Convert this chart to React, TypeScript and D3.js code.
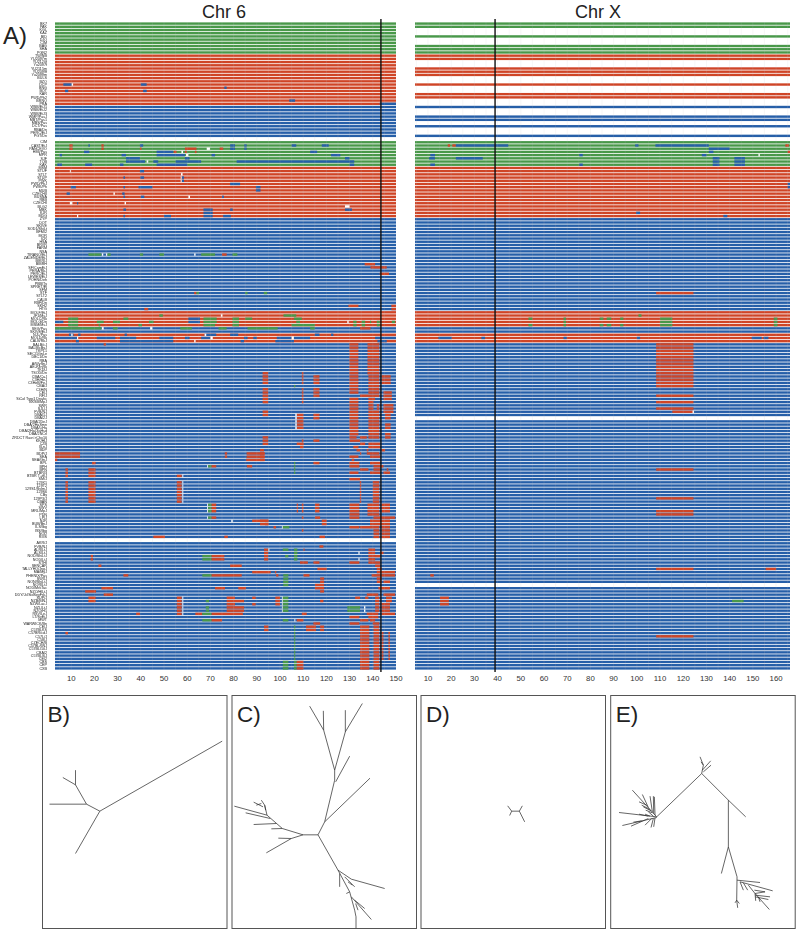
import * as d3 from "d3"

type Allele = "g" | "r" | "b" | "w"
// [first row, last row, first SNP, last SNP, allele]
type Patch = [number, number, number, number, Allele]
// [x1, y1, x2, y2] in tree units
type Branch = [number, number, number, number]

const rowCount = 202

const labelsTopGreen = "BK7,PAK,KGL,KAZ,BID,DJO,CIM,BAG,SHA,PGN2".split(",")
const labelsTopRed = "TW/NB,YU2097m,YU2120f,Yu2097f,YU2115m,YU2099f,Yu2099m,BULS,BZO,DCP,BNG,BOT,KAR,PWD/Ph2,BRNO,PRA".split(",")
const labelsTopBlue = "WSB/EiJ1,WSB/EiJ2,WSB/EiJ3,WMP/PasJ,MBT/Pas1,MBS/Pas,DCT/Pas,RBA/Dn,PERC/EiJ,PGT/Dn".split(",")
const labelsWildGreen = "CIM,CAST/EiJ,PANCEVO,HMI/Pas,MPR,SJF,TOB,KAK".split(",")
const labelsWildRed = "MSM,STUF,STLT,STUP,PWK,PWD/PhJ,PWK/Ph,MUB,CZECHII,BUSNA,RBB,CZECHI,BLG2,MBK,KJR,MDG".split(",")
const labelsClassicA = "ZYP,DOT,SKIVE,SOD1/ShiLt,BFM/2,MOR,ICR,HSA,BRVR,FARM,NSA,TIRANO/EiJ,ZALENDE/EiJ,BIKR/J,BIBRH,SF/CamEiJ,PERA/RkJ,PERC/EiJ,LEWES/EiJ,POHN/Deh,PBB/Ty,SPRET/Ei,SFM,STF,STLT2,CALB,RBF/Dn,SKH2,HTG".split(",")
const labelsClassicB = "MOLF/EiJ,JF1/MsJ,MOLC/Rk,MOLG/Dn,MSM/MsJ,SEG/Pas,SKIVE/EiJ,NJL/Pas,MOLD/Rk,CALB/RkJ,BALB/cJ,BALB/cByJ,TKPL1,SEC/1GnLe,DBC1/Dn,RBA".split(",")
const labelsClassicC = "A/WySnJ,AEJ/GnRk,TKDU,TSOD/Dn,CBA/CaJ,C3H/HeJ,C3HeB/FeJ,CBA/J,C3H/N,CE/J,RF/J,SiCol Tyrp1 Dnahc,BXSB/MpJ,SWR,SJL/J,FVB/NJ,DBA/1J,DBA/2J,DBA/2DeJ,DBA/2HaSmn,DBA/LiHa,DBA/2HaOlaHsd,DBA/2NCrl,ZRDCT Rax<>Chx10,KK/HlJ,CZB,I/LnJ".split(",")
const labelsClassicD = "BDP,BDP/J,SEA,SEA/GnJ,BPL,BPH,BPN,BTBR/3,BTBR T+tf/J,SM/J,129X1,129T2,129S1/SvImJ,129S6,CBy,129P3/J,CBAN,SPS,SWV,MRL/MpJ,PDN,LP/J,NJR,BUB/BnJ,ILS/Ibg,ISS/Ibg,NOD,RIIIS".split(",")
const labelsSecond = "AKR/J,FVB/NJ,ALR/LtJ,ALS/LtJ,NOD/ShiLtJ,NOD/LtJ,STHI,SENCAR,TALLYHO/JngJ,MA/MyJ,PHENIX/Pas,SWXJ,NON/ShiLtJ,NOR/LtJ,NOD/MrkTac,NZO/HlLtJ,DDY/JclSidSeyFrkJ,SUP/J,NZB/BlNJ,NZW/LacJ,NZL/LtJ,NZO/H1,RSV/LeJ,LT/SvEiJ,MWT,WARWICK/Bn,CE/J,C57BLKS,C57BR/cdJ,C57L/J,C58/J,CZECH/B,C57BL/6NJ,C57BL/10J,CBA/2,C57BL/6J,CE/2,CBS,CEP,CXB".split(",")

const chr6Ticks = [10, 20, 30, 40, 50, 60, 70, 80, 90, 100, 110, 120, 130, 140, 150]
const chrXTicks = [10, 20, 30, 40, 50, 60, 70, 80, 90, 100, 110, 120, 130, 140, 150, 160]

const alleleRuns: [number, number, Allele][] = [
  [0, 9, "g"], [10, 25, "r"], [26, 35, "b"], [37, 44, "g"], [45, 60, "r"], [61, 89, "b"],
  [90, 94, "r"], [95, 96, "b"], [97, 99, "r"], [100, 201, "b"],
]

// rows that have data on chr X in the top group, everything else up there is empty
const chrXTopRows = [0, 1, 4, 7, 8, 9, 10, 11, 14, 15, 16, 19, 22, 23, 26, 29, 30, 32, 35]
const chrXEmptyRows = [36, 123, 175]
const chr6EmptyRows = [36, 161]

const chr6TopPatches: Patch[] = [
  [19, 19, 6.6, 10.2, "b"], [19, 19, 10.2, 10.8, "w"], [19, 19, 40, 42.5, "b"],
  [20, 20, 76, 77, "b"], [21, 21, 7.3, 8.7, "b"], [21, 21, 41, 42.5, "b"],
  [24, 24, 104, 106.5, "b"], [25, 25, 143, 150, "b"],
]
const chr6GreenPatches: Patch[] = [
  [38, 38, 9.2, 10.6, "r"], [38, 38, 17.4, 18, "b"], [38, 38, 23, 24, "r"], [38, 38, 39.6, 41, "b"],
  [38, 38, 78.5, 80.6, "b"], [38, 38, 84.6, 85.6, "b"], [38, 38, 105, 107, "b"], [38, 38, 118, 121, "b"],
  [39, 39, 9.2, 10.6, "r"], [39, 39, 23, 24, "r"], [39, 39, 39.6, 40.3, "r"], [39, 39, 59, 64, "r"],
  [39, 39, 68.4, 69.8, "w"], [39, 39, 74, 75.5, "r"], [39, 39, 78.5, 80.6, "b"], [39, 39, 84.6, 85.6, "b"],
  [40, 40, 15.5, 17.8, "b"], [40, 40, 46.8, 54, "b"], [40, 40, 54.2, 55.4, "r"], [40, 40, 57.5, 58.2, "w"],
  [40, 40, 59, 59.8, "r"], [40, 40, 63.3, 64, "r"], [40, 40, 113, 116, "b"],
  [41, 41, 5, 6, "b"], [41, 41, 31.7, 33.6, "b"], [41, 41, 46.8, 59, "b"], [41, 41, 59.5, 60.5, "w"],
  [41, 41, 70.5, 72, "b"], [41, 41, 122, 126, "b"],
  [42, 42, 33.6, 39.6, "b"], [42, 42, 59, 61, "b"], [42, 42, 128, 130, "b"],
  [43, 43, 33.6, 41.8, "b"], [43, 43, 42.5, 43.2, "w"], [43, 43, 45.4, 47.5, "b"], [43, 43, 55, 66, "b"],
  [43, 43, 81.3, 132, "b"],
  [44, 44, 4, 6, "b"], [44, 44, 16, 19, "b"], [44, 44, 31, 32.5, "b"], [44, 44, 46.8, 60, "b"],
  [44, 44, 130, 132, "b"],
]
const chr6RedPatches: Patch[] = [
  [46, 46, 39.6, 41.4, "b"], [46, 46, 9.4, 9.8, "w"], [47, 47, 57.3, 58, "w"],
  [48, 49, 57.6, 58.6, "b"], [48, 49, 57.2, 57.6, "w"], [48, 48, 39.8, 41.4, "b"], [48, 48, 32.5, 33.2, "b"],
  [50, 50, 78.5, 82.8, "b"], [51, 51, 9.8, 12, "b"], [51, 51, 32.5, 33.2, "b"], [51, 51, 39, 45, "b"],
  [51, 52, 89.6, 91.6, "b"], [53, 53, 8, 9.4, "b"], [53, 53, 28.2, 28.8, "w"], [53, 53, 32, 33, "b"],
  [54, 54, 32.5, 33.2, "b"], [54, 54, 40, 41.5, "b"], [54, 54, 60.5, 61.2, "w"], [54, 54, 75, 75.8, "b"],
  [56, 56, 9.4, 10.5, "w"], [56, 56, 12.5, 13, "b"], [56, 56, 33, 33.6, "w"], [57, 57, 128, 130, "w"],
  [58, 59, 67, 71, "b"], [58, 58, 32.5, 33.6, "b"], [58, 58, 78.5, 79.6, "b"], [58, 58, 128, 131, "b"],
  [60, 60, 12.5, 13, "w"], [60, 60, 32.5, 33.2, "b"], [60, 60, 50, 53, "b"], [60, 60, 67, 71, "b"],
  [60, 60, 75.5, 78.8, "b"],
]
const chr6BluePatches: Patch[] = [
  [72, 72, 17.4, 23, "g"], [72, 72, 23.2, 23.8, "w"], [72, 72, 25, 25.6, "w"], [72, 72, 25.6, 27, "g"],
  [72, 72, 39.6, 41, "g"], [72, 72, 48, 50, "g"], [72, 72, 63, 63.6, "w"], [72, 72, 66, 72, "g"],
  [72, 72, 75, 77, "r"], [72, 72, 79.5, 81.6, "g"],
  [75, 75, 136.5, 141, "r"], [76, 76, 139, 146, "r"], [78, 78, 143, 147, "r"],
  [84, 84, 63, 64, "r"], [84, 84, 64, 65, "g"], [84, 84, 85, 86, "g"], [84, 84, 93, 94.5, "g"],
  [88, 88, 129.5, 133.8, "r"], [88, 89, 148, 150, "r"], [89, 89, 41.5, 43.2, "r"],
]
const chr6MolfPatches: Patch[] = [
  [91, 91, 48, 49.5, "g"], [91, 91, 101.5, 107, "g"], [91, 91, 74.5, 75.2, "w"],
  [92, 92, 8.7, 13, "g"], [92, 92, 32.5, 34.6, "g"], [92, 93, 60.5, 65.5, "b"], [92, 92, 67, 72.7, "g"],
  [92, 92, 79.5, 82.3, "g"], [92, 92, 85, 88, "g"], [92, 92, 106, 109.4, "g"],
  [93, 93, 3, 6.6, "b"], [93, 93, 8.7, 13, "g"], [93, 93, 21, 24, "g"], [93, 93, 28, 31, "g"],
  [93, 93, 43.5, 45.5, "g"], [93, 93, 67, 72.7, "g"], [93, 93, 79.5, 82.3, "g"], [93, 93, 107, 108.6, "g"],
  [93, 93, 129, 129.6, "w"], [93, 94, 131.6, 133, "g"], [93, 94, 135.2, 136.7, "g"], [93, 93, 138.8, 139.3, "g"],
  [93, 94, 141.7, 143, "g"], [93, 93, 148.2, 149.6, "g"],
  [94, 94, 8.7, 13, "g"], [94, 94, 21.8, 22.5, "g"], [94, 94, 39, 40.5, "g"], [94, 94, 67, 72, "g"],
  [94, 94, 79.5, 82.3, "g"], [94, 94, 105, 115, "g"],
  [95, 95, 3, 23, "g"], [95, 95, 23.2, 24, "w"], [95, 95, 28, 30, "g"], [95, 95, 44, 45, "w"],
  [95, 95, 57, 62, "g"], [95, 95, 73.5, 77, "g"], [95, 95, 86, 99, "g"], [95, 95, 113, 115, "g"],
  [95, 95, 134.5, 139, "r"],
  [97, 97, 9, 11, "b"], [97, 97, 10, 10.6, "w"], [97, 97, 13, 14, "b"], [97, 97, 33, 34, "b"],
  [97, 97, 67.5, 72.5, "b"], [97, 97, 67.5, 68.2, "w"], [97, 97, 78.5, 82, "b"], [97, 97, 115, 117, "b"], [97, 97, 122, 123, "b"],
  [98, 98, 3, 12.5, "b"], [98, 98, 12.5, 13, "w"], [98, 98, 21, 29, "b"], [98, 98, 31, 38, "b"], [98, 98, 48, 54, "b"],
  [98, 98, 59, 61, "b"], [98, 98, 66, 70, "b"], [98, 98, 70, 71, "w"], [98, 98, 84.5, 86, "b"], [98, 98, 88.5, 90, "b"],
  [98, 98, 98.6, 105, "b"], [98, 98, 105, 106, "w"], [98, 98, 106, 113, "b"], [98, 98, 141, 150, "b"],
  [99, 99, 12, 13.3, "b"], [99, 99, 31, 54, "b"], [99, 99, 63, 63.6, "w"], [99, 99, 83, 84.5, "b"],
  [99, 99, 98, 106, "b"], [99, 99, 142, 146, "b"],
]
// the long red columns on the right of chr 6
const chr6ColumnPatches: Patch[] = [
  [100, 115, 129.9, 133.8, "r"], [117, 128, 129.9, 133.8, "r"],
  [100, 109, 137.7, 142.8, "r"], [110, 115, 138.1, 142.8, "r"], [116, 116, 134.5, 142.8, "r"], [117, 117, 138.1, 141, "r"],
  [118, 120, 138.1, 140.3, "r"], [121, 128, 138.1, 142.8, "r"], [119, 120, 141.7, 142.8, "r"],
  [110, 112, 143.8, 147.7, "r"], [115, 117, 144.6, 148.2, "r"], [119, 121, 144.6, 148.9, "r"],
  [122, 123, 145.3, 147.7, "r"], [125, 126, 145.3, 147.7, "r"], [128, 128, 145.3, 147.7, "r"],
  [129, 129, 129.9, 133, "r"], [129, 129, 134.5, 137.4, "r"], [129, 129, 138.1, 142.8, "r"], [129, 129, 145.3, 147.7, "r"],
  [130, 130, 129.9, 134.5, "r"], [131, 131, 134.5, 136.7, "r"], [131, 131, 138.1, 143.1, "r"],
  [132, 132, 131.6, 133.8, "r"], [132, 132, 138.1, 143.1, "r"], [133, 133, 133, 134.5, "r"], [133, 133, 137.4, 138.1, "r"], [133, 133, 143.8, 145.3, "r"],
  [134, 134, 134.5, 135, "r"], [134, 134, 137.4, 142.8, "r"], [135, 135, 129.9, 133.8, "r"], [135, 135, 138.8, 143.1, "r"],
  [136, 136, 130.9, 132, "r"], [137, 137, 129.9, 134.2, "r"], [137, 137, 138.8, 143.1, "r"],
  [138, 138, 129.9, 134.2, "r"], [138, 138, 140.3, 144.6, "r"], [139, 139, 134.5, 138.1, "r"], [139, 139, 140.3, 143.1, "r"], [139, 139, 146, 146.7, "r"],
  [140, 140, 129.9, 133.8, "r"], [140, 140, 138.8, 143.1, "r"], [140, 140, 144.6, 147.4, "r"],
  [142, 142, 129.9, 134.5, "r"], [143, 149, 140, 142.8, "r"], [143, 149, 134.4, 135, "r"],
  [150, 154, 129.9, 134.2, "r"], [150, 153, 137.7, 142.8, "r"], [150, 152, 143.8, 147.4, "r"],
  [154, 154, 140.3, 149.6, "r"], [155, 156, 138.8, 147.4, "r"],
  [157, 157, 129.9, 134.2, "r"], [157, 157, 134.5, 142.8, "r"], [157, 160, 143.8, 147.4, "r"], [158, 160, 140.3, 142.8, "r"],
  [164, 168, 138.1, 141, "r"], [165, 165, 143.1, 144.6, "r"], [166, 166, 141, 143.1, "r"], [168, 168, 129.9, 134.2, "r"], [168, 169, 141, 143.1, "r"],
  [170, 170, 141.7, 143.8, "r"], [171, 171, 141.7, 149.6, "r"], [172, 172, 139.5, 149.6, "r"], [173, 174, 141.7, 143.8, "r"], [174, 174, 144.6, 147.4, "r"],
  [176, 176, 142.4, 147.4, "r"], [178, 178, 137.4, 142.4, "r"], [178, 178, 144.6, 149.6, "r"],
  [179, 179, 132.4, 134.5, "r"], [179, 179, 136.7, 138.1, "r"], [179, 181, 141, 142.8, "r"], [179, 180, 145.7, 148.2, "r"], [181, 183, 143.8, 147.4, "r"],
  [182, 183, 129, 134.5, "g"], [182, 183, 136.2, 136.8, "w"], [182, 183, 141, 142.8, "r"],
  [184, 184, 137.4, 142.4, "r"], [184, 184, 143.8, 149.6, "r"], [185, 185, 129.9, 134.2, "r"], [185, 185, 138.1, 142.4, "r"],
  [186, 186, 134.5, 138.1, "r"], [186, 186, 138.8, 141, "r"], [187, 187, 129.9, 134.2, "r"], [187, 187, 140, 142.8, "r"],
  [188, 198, 134.5, 138.5, "r"], [188, 198, 140.3, 142.8, "r"], [190, 198, 143.8, 144.6, "r"], [190, 198, 146.7, 147.4, "r"],
  [199, 201, 134.5, 138.5, "r"], [199, 201, 140.3, 142.8, "r"],
]
const chr6MiddlePatches: Patch[] = [
  [109, 112, 92.5, 94.9, "r"], [114, 118, 92.5, 94.9, "r"], [121, 122, 92.5, 94.9, "r"], [129, 131, 92.5, 94.9, "r"],
  [109, 112, 109.4, 110.1, "r"], [114, 118, 109.4, 110.1, "r"], [130, 131, 109.4, 110.1, "r"],
  [110, 112, 114.4, 117, "r"], [114, 116, 114.4, 117, "r"], [122, 123, 114.4, 117, "r"], [130, 130, 114.4, 117, "r"], [137, 137, 114.4, 117, "r"],
  [122, 126, 107.2, 110.1, "r"], [122, 126, 106.6, 107.2, "w"], [131, 131, 107.2, 110.1, "r"], [132, 132, 108.6, 110.1, "r"],
  [113, 113, 106, 106.6, "g"], [137, 140, 106, 106.6, "g"], [133, 136, 91.4, 93.1, "r"],
  [100, 100, 24, 25, "r"],
  [134, 135, 3, 13.8, "r"], [134, 135, 76.2, 77.2, "r"], [134, 135, 85.6, 93.5, "r"], [136, 136, 3, 4, "r"], [136, 136, 85.4, 93.5, "r"],
  [137, 137, 19, 20.5, "r"],
  [138, 138, 68.6, 69, "w"], [138, 138, 69, 70.5, "g"], [138, 138, 70.5, 72.5, "r"], [138, 138, 85.7, 88, "r"],
  [139, 141, 7.5, 8.6, "r"], [139, 141, 17.4, 20.5, "r"], [141, 141, 55.5, 57.6, "r"], [141, 141, 57.9, 58.3, "w"],
  [143, 149, 7.5, 8.6, "r"], [143, 149, 17.4, 20.5, "r"], [143, 149, 55.5, 57.6, "r"], [143, 149, 57.9, 58.3, "w"],
  [150, 152, 68.6, 69, "w"], [150, 152, 69, 70.5, "g"], [150, 152, 70.5, 72.5, "r"],
  [154, 154, 68.6, 69, "w"], [154, 154, 69, 70.5, "g"], [154, 154, 70.5, 72.5, "r"], [150, 152, 109.4, 110.1, "r"], [150, 152, 115.1, 117, "r"], [150, 152, 107.2, 107.8, "r"],
  [154, 154, 109.4, 110.1, "r"], [154, 154, 115.1, 117.3, "r"],
  [155, 155, 79, 79.6, "w"], [155, 155, 88, 95, "r"], [155, 156, 91.4, 95, "r"], [156, 156, 93.5, 95, "r"], [155, 156, 118, 120.1, "r"],
  [157, 157, 97.2, 98.3, "r"], [157, 157, 100.8, 101.2, "w"], [157, 157, 101.2, 104, "g"],
  [158, 158, 109.4, 110.1, "r"], [160, 160, 45.4, 50.4, "r"], [160, 160, 76, 77.5, "r"], [160, 160, 117, 119.4, "r"],
  [163, 163, 117, 118.7, "r"],
]
const chr6LowerPatches: Patch[] = [
  [164, 167, 93.1, 94.9, "r"], [164, 164, 95, 95.4, "w"], [164, 164, 101.2, 103.6, "g"], [164, 167, 106, 107.5, "g"],
  [164, 164, 110.1, 110.6, "r"], [165, 165, 133.8, 134.3, "w"], [166, 166, 102.2, 103.6, "g"], [167, 167, 133.8, 134.3, "w"],
  [166, 167, 18.4, 19.4, "r"], [166, 167, 66.5, 70.5, "g"], [166, 167, 70.5, 76, "r"],
  [168, 168, 108.6, 112, "r"], [168, 168, 114.4, 117, "r"], [169, 169, 21.7, 23, "r"], [169, 169, 78.5, 83.5, "r"],
  [170, 170, 116.1, 120.1, "r"], [171, 171, 88, 96, "r"], [171, 171, 97.8, 98.4, "r"],
  [172, 172, 32.5, 34.6, "r"], [172, 172, 66.5, 70.5, "g"], [172, 172, 70.5, 83.5, "r"], [172, 172, 98.3, 99.3, "r"], [172, 172, 110.1, 112.7, "r"],
  [172, 175, 101.4, 103.6, "g"], [173, 174, 117.3, 119, "r"], [175, 176, 115.1, 119, "r"], [177, 177, 117.3, 119, "r"],
  [176, 176, 23, 28, "r"], [176, 176, 72, 76.3, "r"], [176, 176, 82, 85.3, "r"],
  [177, 177, 16, 20.7, "r"], [178, 178, 24, 28, "r"],
  [179, 180, 17.4, 20.5, "r"], [179, 184, 55.5, 57.6, "r"], [179, 184, 57.9, 58.3, "w"],
  [179, 179, 77, 80.6, "r"], [180, 180, 68, 69.4, "g"], [180, 180, 77, 84.5, "r"], [179, 179, 88, 89.5, "r"], [181, 181, 88, 89.5, "r"], [181, 181, 77, 80.6, "r"],
  [182, 183, 68, 69.4, "g"], [182, 183, 77, 84.5, "r"], [184, 184, 38, 39.6, "r"],
  [184, 184, 63.5, 66.5, "r"], [184, 184, 66.5, 70.5, "g"], [184, 184, 70.5, 84, "r"],
  [179, 181, 98, 100, "r"], [179, 183, 100.8, 101.2, "w"], [179, 183, 101.2, 103.6, "g"], [180, 180, 117.3, 118.7, "r"],
  [184, 184, 109.4, 111.5, "r"],
  [186, 186, 66.5, 70.5, "g"], [186, 186, 70.5, 75, "r"], [186, 186, 101.2, 103.6, "g"], [186, 186, 106.2, 106.6, "w"], [186, 186, 107.2, 110.1, "r"],
  [187, 187, 114.4, 117.3, "r"], [188, 189, 93.1, 95, "r"], [188, 189, 111.2, 115.5, "r"], [188, 189, 117.3, 119, "r"],
  [190, 190, 7.5, 8.6, "r"], [188, 198, 106, 106.6, "g"],
  [199, 201, 101.2, 103.6, "g"], [199, 201, 106, 107.2, "g"], [199, 201, 107.2, 110.1, "r"],
]
const chrXPatches: Patch[] = [
  [38, 38, 18.5, 19.5, "r"], [38, 38, 20.5, 22, "r"], [38, 38, 22, 44.6, "b"], [38, 38, 99.3, 100.7, "b"], [38, 38, 108, 131, "b"], [38, 38, 164, 165.5, "r"],
  [39, 39, 131, 140, "b"], [40, 40, 131, 133, "b"], [40, 40, 165, 166, "r"],
  [41, 41, 11, 13, "b"], [41, 41, 75.2, 76.7, "b"], [41, 41, 128, 130, "b"], [41, 41, 152.4, 153, "w"],
  [42, 42, 10.5, 13, "b"], [42, 42, 22, 33.6, "b"], [42, 44, 132.7, 135.6, "b"], [42, 44, 142, 146.6, "b"],
  [44, 44, 11, 13, "b"], [44, 44, 75.2, 76.7, "b"],
  [50, 51, 165, 166, "b"], [59, 59, 99.7, 101.4, "b"], [60, 60, 137.3, 139, "b"],
  [84, 84, 108.3, 124.4, "r"],
  [91, 91, 100.7, 102, "g"],
  [92, 92, 53.3, 55, "g"], [92, 94, 68.4, 69.5, "g"], [92, 92, 84, 85.6, "g"], [92, 92, 87, 89, "g"], [92, 92, 92.8, 94.2, "g"],
  [94, 94, 53.3, 55, "g"], [94, 94, 84, 85.6, "g"], [94, 94, 87, 89, "g"], [94, 94, 92.8, 94.2, "g"],
  [92, 94, 110, 115.3, "g"], [92, 94, 159, 160.6, "g"],
  [98, 98, 14.5, 20.2, "b"], [98, 98, 33, 34.6, "b"], [98, 98, 68.4, 69.8, "b"], [98, 98, 100, 101.4, "b"],
  [98, 98, 149.5, 153.8, "b"], [98, 98, 154.6, 156.7, "b"],
  [100, 113, 108.3, 124.4, "r"], [116, 116, 108.3, 124.4, "r"], [118, 118, 108.3, 124.4, "r"], [120, 120, 108.3, 124.4, "r"],
  [121, 121, 115.3, 124.4, "r"], [121, 121, 124, 124.6, "w"],
  [139, 139, 108.3, 124.4, "r"], [148, 148, 108.3, 124.4, "r"], [152, 153, 108.3, 124.4, "r"],
  [170, 170, 108.3, 124.4, "r"], [170, 170, 155.5, 160, "r"], [172, 172, 11, 12.5, "r"],
  [179, 181, 15.2, 19, "r"], [180, 180, 141, 146, "g"], [191, 191, 108.3, 124.4, "r"],
]

const treeB: Branch[] = [
  [210, 363, 577, 153], [210, 363, 137, 490], [210, 363, 170, 342], [170, 342, 59, 342],
  [170, 342, 137, 284], [137, 284, 99, 262], [137, 284, 137, 240],
]
const treeC: Branch[] = [
  [865, 434, 820, 434], [865, 434, 925, 540], [865, 434, 885, 395], [885, 395, 1021, 264], [885, 395, 915, 270],
  [915, 270, 915, 240], [918, 275, 960, 198], [915, 240, 882, 120], [915, 240, 947, 125], [882, 120, 881, 62],
  [882, 120, 840, 48], [947, 125, 947, 60], [947, 125, 998, 40],
  [820, 434, 758, 415], [820, 434, 785, 445], [785, 445, 746, 444], [785, 445, 710, 488], [758, 415, 725, 416],
  [758, 415, 712, 375], [740, 400, 672, 403], [722, 385, 648, 368], [712, 375, 614, 348], [712, 375, 705, 345],
  [705, 345, 695, 330], [705, 345, 708, 360], [700, 350, 672, 336], [695, 340, 680, 345],
  [925, 540, 965, 567], [965, 567, 1065, 595], [925, 540, 960, 605], [960, 605, 975, 660], [975, 660, 979, 680], [979, 680, 979, 714],
  [930, 550, 930, 590], [945, 560, 975, 590], [955, 575, 968, 585], [965, 620, 1025, 688], [975, 630, 1005, 655],
  [978, 640, 985, 660], [960, 605, 950, 610],
]
const treeD: Branch[] = [
  [290, 363, 313, 363], [290, 363, 278, 347], [290, 363, 284, 376], [313, 363, 322, 347], [313, 363, 329, 395],
]
const treeE: Branch[] = [
  [860, 250, 725, 380], [860, 250, 940, 330], [940, 330, 992, 380], [940, 330, 940, 470], [940, 470, 919, 550],
  [940, 470, 966, 560], [966, 560, 965, 630], [965, 630, 968, 653], [965, 630, 960, 638], [965, 630, 973, 640],
  [966, 570, 1035, 577], [975, 575, 1073, 602], [975, 575, 985, 600], [985, 578, 998, 600], [1000, 585, 1020, 610],
  [1020, 610, 1063, 658], [1020, 610, 1050, 605], [1020, 615, 1065, 620], [1020, 620, 1060, 628], [1020, 610, 1022, 632],
  [1030, 620, 1035, 635], [1018, 600, 1050, 605],
  [860, 250, 865, 225], [865, 225, 855, 200], [862, 240, 887, 212], [865, 245, 888, 225], [865, 225, 858, 215],
  // upper part of the left fan
  [725, 380, 652, 300], [700, 352, 682, 313], [712, 365, 705, 318], [716, 370, 715, 318], [720, 375, 718, 320],
  [695, 345, 672, 335], [705, 358, 680, 345], [708, 362, 685, 350], [712, 368, 692, 360],
  // lower part of the left fan
  [725, 380, 612, 367], [725, 382, 622, 406], [700, 385, 648, 408], [715, 385, 708, 412], [720, 383, 716, 410],
  [710, 385, 690, 405], [700, 378, 672, 372], [705, 378, 690, 372], [715, 378, 700, 365], [680, 392, 655, 396],
]

const alleleColor: Record<Allele, string> = { g: "#48984a", r: "#cf4528", b: "#265ea8", w: "#ffffff" }

const allLabels = [
  ...labelsTopGreen, ...labelsTopRed, ...labelsTopBlue, "",
  ...labelsWildGreen, ...labelsWildRed, ...labelsClassicA, ...labelsClassicB, ...labelsClassicC, ...labelsClassicD, "",
  ...labelsSecond,
]

const rows = d3.range(rowCount)
const y = d3.scaleBand<number>().domain(rows).range([22, 670]).paddingInner(0.25).paddingOuter(0.12)
const x6 = d3.scaleLinear().domain([3, 150]).range([55, 396])
const xX = d3.scaleLinear().domain([4.4, 166]).range([415, 790])

const alleleOfRow = (r: number): Allele | null => {
  const run = alleleRuns.find((a) => r >= a[0] && r <= a[1])
  return run ? run[2] : null
}

const chr6Patches = [
  ...chr6TopPatches, ...chr6GreenPatches, ...chr6RedPatches, ...chr6BluePatches, ...chr6MolfPatches,
  ...chr6ColumnPatches, ...chr6MiddlePatches, ...chr6LowerPatches,
]

function Chromosome({
  title, titleX, xScale, ticks, patches, marker, hasRow,
}: {
  title: string
  titleX: number
  xScale: d3.ScaleLinear<number, number>
  ticks: number[]
  patches: Patch[]
  marker: number
  hasRow: (r: number) => boolean
}) {
  const [d0, d1] = xScale.domain()
  const grid = d3.range(Math.ceil(d0 / 5) * 5, d1, 5)
  return (
    <g>
      <text x={titleX} y={18} textAnchor="middle" fontSize={18} fill="#222">{title}</text>
      <g filter="url(#soft)">
        {rows.filter(hasRow).map((r) => {
          const allele = alleleOfRow(r)
          if (!allele) return null
          return <rect key={r} x={xScale(d0)} y={y(r)} width={xScale(d1) - xScale(d0)} height={y.bandwidth()} fill={alleleColor[allele]} />
        })}
        {patches.flatMap((p, i) =>
          d3.range(p[0], p[1] + 1).filter(hasRow).map((r) => (
            <rect key={i + "-" + r} x={xScale(p[2])} y={y(r)} width={xScale(p[3]) - xScale(p[2])} height={y.bandwidth()} fill={alleleColor[p[4]]} />
          )),
        )}
        {grid.map((g) => (
          <line key={g} x1={xScale(g)} x2={xScale(g)} y1={22} y2={670} stroke="#c8c8c8" strokeOpacity={0.28} strokeWidth={0.5} />
        ))}
      </g>
      <line x1={xScale(marker)} x2={xScale(marker)} y1={19} y2={672} stroke="#111" strokeWidth={1.4} />
      {ticks.map((t) => (
        <text key={t} x={xScale(t)} y={681} textAnchor="middle" fontSize={7.8} fill="#333">{t}</text>
      ))}
    </g>
  )
}

function TreePanel({ name, left, originX, branches }: { name: string; left: number; originX: number; branches: Branch[] }) {
  const top = 695.5
  const w = 184.5
  const h = 233
  // tree units are 1/3 px, measured from the panel's corner in originX / 16
  const tx = d3.scaleLinear().domain([originX, originX + w * 3]).range([left, left + w])
  const ty = d3.scaleLinear().domain([16, 16 + h * 3]).range([top, top + h])
  return (
    <g>
      <rect x={left} y={top} width={w} height={h} fill="#fff" stroke="#555" strokeWidth={1} />
      <text x={left + 5} y={top + 26.5} fontSize={22.5} fill="#222">{name}</text>
      {branches.map((b, i) => (
        <line key={i} x1={tx(b[0])} y1={ty(b[1])} x2={tx(b[2])} y2={ty(b[3])} stroke="#333" strokeWidth={0.75} />
      ))}
    </g>
  )
}

export default function App() {
  const has6 = (r: number) => !chr6EmptyRows.includes(r)
  const hasX = (r: number) => (r < 36 ? chrXTopRows.includes(r) : !chrXEmptyRows.includes(r))
  return (
    <svg width={800} height={933} style={{ position: "absolute", left: 0, top: 0, background: "#fff" }} fontFamily="'Liberation Sans', Arial, sans-serif">
      <defs>
        <filter id="soft" x="-2%" y="-2%" width="104%" height="104%">
          <feGaussianBlur stdDeviation="0.3" />
        </filter>
      </defs>
      <text x={3} y={43.5} fontSize={24} fill="#222">A)</text>
      <g filter="url(#soft)">
        {allLabels.map((l, r) => (
          <text key={r} x={47} y={(y(r) ?? 0) + y.bandwidth()} textAnchor="end" fontSize={3.7} fill="#222">{l}</text>
        ))}
      </g>
      <Chromosome title="Chr 6" titleX={224} xScale={x6} ticks={chr6Ticks} patches={chr6Patches} marker={143.5} hasRow={has6} />
      <Chromosome title="Chr X" titleX={598} xScale={xX} ticks={chrXTicks} patches={chrXPatches} marker={38.9} hasRow={hasX} />
      <TreePanel name="B)" left={42.5} originX={38} branches={treeB} />
      <TreePanel name="C)" left={232} originX={607} branches={treeC} />
      <TreePanel name="D)" left={421} originX={18} branches={treeD} />
      <TreePanel name="E)" left={610.7} originX={587} branches={treeE} />
    </svg>
  )
}
